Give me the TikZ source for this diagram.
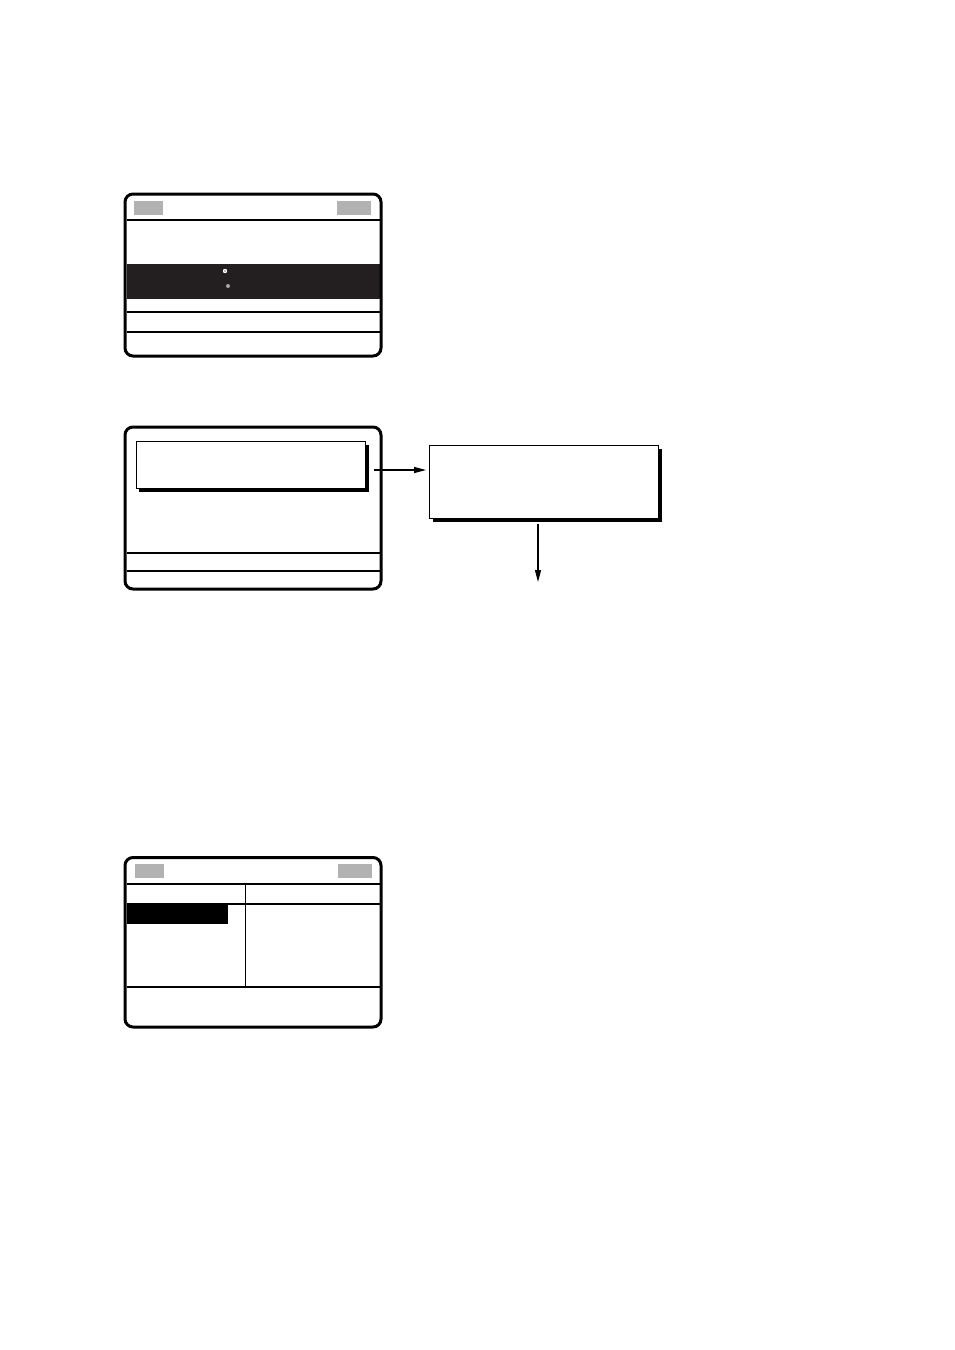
\documentclass[tikz,border=0pt]{standalone}
\usetikzlibrary{arrows.meta,positioning,shadows}
\definecolor{tabgray}{RGB}{178,178,178}
\definecolor{bandblack}{RGB}{35,31,32}
\tikzset{
  screen/.style={line width=3pt, rounded corners=8pt},
  rule/.style={line width=1.3pt},
  tab/.style={fill=tabgray},
  popbox/.style={draw, fill=white, line width=1pt, anchor=north west,
    drop shadow={shadow xshift=3pt, shadow yshift=-3pt, fill=black, opacity=1}},
  flow/.style={line width=1.3pt, -{Triangle[length=12pt,width=6pt]}}
}
\begin{document}
\begin{tikzpicture}[x=1pt,y=-1pt]
  \useasboundingbox (0,0) rectangle (954,1350);
  % first screen
  \fill [bandblack] (126.5,264) rectangle (379.5,298.5);
  \draw [screen] (125,194) rectangle (381,356);
  \fill [tab] (134,201) rectangle (163,215);
  \fill [tab] (337,201) rectangle (371,215);
  \draw [rule] (126.5,220) -- (379.5,220);
  \draw [rule] (126.5,312) -- (379.5,312);
  \draw [rule] (126.5,332) -- (379.5,332);
  \fill [white] (225,271) circle (2.2);
  \fill [gray] (225,271) circle (0.8);
  \fill [gray!70] (228,286) circle (2);
  % second screen
  \draw [screen] (125,427) rectangle (381,589);
  \draw [rule] (126.5,553) -- (379.5,553);
  \draw [rule] (126.5,571) -- (379.5,571);
  \node [popbox, minimum width=229.5pt, minimum height=47pt] (confirm) at (135.5,441) {};
  \node [popbox, minimum width=229pt, minimum height=73pt] (popup) at (429,445) {};
  \coordinate (next) at (538,582);
  \draw [flow] ([xshift=8pt,yshift=-5pt]confirm.east) -- ([yshift=-5pt]confirm.east -| popup.west)
    [shorten >=3pt];
  \draw [flow, shorten <=4.5pt] (popup.south -| next) -- (next);
  % third screen
  \fill [black] (127,903) rectangle (228,924);
  \draw [screen] (125,857.5) rectangle (381,1027);
  \fill [tab] (135,864) rectangle (164,878);
  \fill [tab] (338,864) rectangle (372,878);
  \draw [rule] (126.5,884) -- (379.5,884);
  \draw [rule] (126.5,904) -- (379.5,904);
  \draw [rule] (126.5,987) -- (379.5,987);
  \draw [rule] (245.3,884) -- (245.3,987);
\end{tikzpicture}
\end{document}
